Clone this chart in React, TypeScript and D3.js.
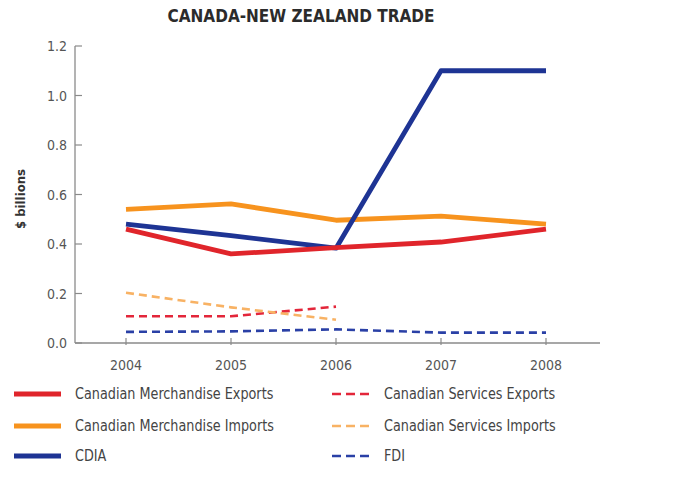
import React from "react";
import * as d3 from "d3";

const years = [2004, 2005, 2006, 2007, 2008];
const yTicks = [0, 0.2, 0.4, 0.6, 0.8, 1.0, 1.2];

const merchExports = [0.46, 0.36, 0.385, 0.408, 0.46];
const merchImports = [0.54, 0.562, 0.496, 0.513, 0.48];
const cdia = [0.48, 0.434, 0.383, 1.1, 1.1];
const servExports = [0.108, 0.108, 0.147];
const servImports = [0.203, 0.144, 0.094];
const fdi = [0.045, 0.047, 0.055, 0.042, 0.042];

const seriesList = [
  { name: "Canadian Merchandise Exports", values: merchExports, color: "#e0252b", dashed: false },
  { name: "Canadian Merchandise Imports", values: merchImports, color: "#f7931e", dashed: false },
  { name: "CDIA", values: cdia, color: "#1e3494", dashed: false },
  { name: "Canadian Services Exports", values: servExports, color: "#e3263a", dashed: true },
  { name: "Canadian Services Imports", values: servImports, color: "#f8b264", dashed: true },
  { name: "FDI", values: fdi, color: "#2a40a6", dashed: true },
];

const font = "'DejaVu Sans Condensed', 'Liberation Sans Narrow', 'Arial Narrow', sans-serif";

export default function App() {
  const W = 683, H = 481;
  const x = d3.scaleLinear().domain([2004, 2008]).range([126, 546]);
  const y = d3.scaleLinear().domain([0, 1.2]).range([343, 46]);
  const axisLeft = 75, axisRight = 600;

  const line = d3
    .line<number>()
    .x((_, i) => x(years[i]))
    .y((d) => y(d));

  const legendRows = [394, 426, 456];

  return (
    <svg width={W} height={H} style={{ position: "absolute", left: 0, top: 0, background: "#fff" }}>
      <rect width={W} height={H} fill="#fff" />
      <text x={301} y={22} textAnchor="middle" fontFamily={font} fontWeight="bold" fontSize={17} fill="#2b2b2b">
        CANADA-NEW ZEALAND TRADE
      </text>
      <text
        transform={`translate(25,${199}) rotate(-90)`}
        textAnchor="middle"
        fontFamily={font}
        fontWeight="bold"
        fontSize={13}
        fill="#333"
      >
        $ billions
      </text>
      <line x1={axisLeft} x2={axisLeft} y1={y(1.2)} y2={y(0)} stroke="#8a8a8a" strokeWidth={1.3} />
      <line x1={axisLeft} x2={axisRight} y1={y(0)} y2={y(0)} stroke="#8a8a8a" strokeWidth={1.3} />
      {yTicks.map((t) => (
        <g key={t}>
          <line x1={axisLeft} x2={axisLeft + 7} y1={y(t)} y2={y(t)} stroke="#8a8a8a" strokeWidth={1.2} />
          <text x={67} y={y(t) + 5} textAnchor="end" fontFamily={font} fontSize={14} fill="#555">
            {t.toFixed(1)}
          </text>
        </g>
      ))}
      {years.map((yr) => (
        <g key={yr}>
          <line x1={x(yr)} x2={x(yr)} y1={y(0) - 5} y2={y(0) + 2} stroke="#8a8a8a" strokeWidth={1.2} />
          <text x={x(yr)} y={y(0) + 27} textAnchor="middle" fontFamily={font} fontSize={14} fill="#555">
            {yr}
          </text>
        </g>
      ))}
      {seriesList
        .filter((s) => s.dashed)
        .map((s) => (
          <path key={s.name} d={line(s.values) || ""} fill="none" stroke={s.color} strokeWidth={2.6} strokeDasharray="8,5" />
        ))}
      {[seriesList[1], seriesList[2], seriesList[0]].map((s) => (
        <path key={s.name} d={line(s.values) || ""} fill="none" stroke={s.color} strokeWidth={4.8} strokeLinejoin="round" />
      ))}
      {seriesList.map((s, i) => {
        const col = i < 3 ? 0 : 1;
        const row = i % 3;
        const sx = col === 0 ? 14 : 332;
        const ex = col === 0 ? 61 : 372;
        const tx = col === 0 ? 75 : 384;
        const ly = legendRows[row];
        return (
          <g key={s.name}>
            <line
              x1={sx}
              x2={ex}
              y1={ly}
              y2={ly}
              stroke={s.color}
              strokeWidth={s.dashed ? 2.6 : 4.8}
              strokeDasharray={s.dashed ? "9,5" : undefined}
            />
            <text
              transform={`translate(${tx},${ly + 5}) scale(0.95,1)`}
              fontFamily={font}
              fontSize={15}
              fill="#444"
            >
              {s.name}
            </text>
          </g>
        );
      })}
    </svg>
  );
}
